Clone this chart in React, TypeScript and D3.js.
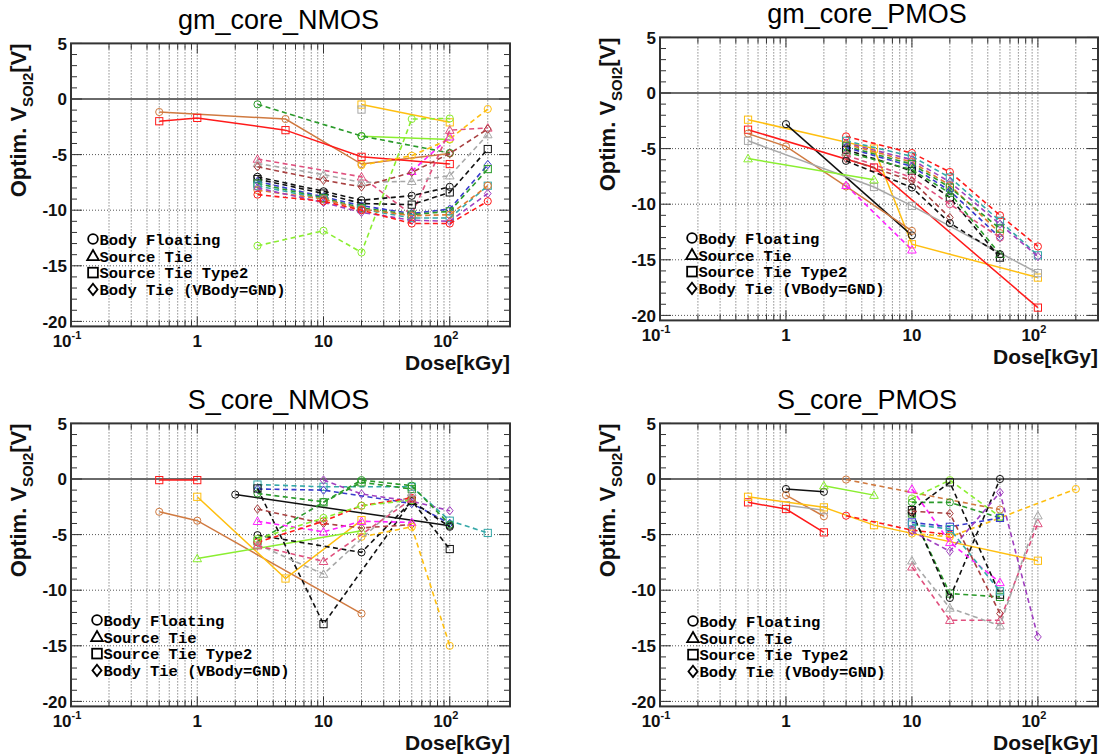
import React from 'react';
import * as d3 from 'd3';

type Pt = [number, number];
type Mk = 'o' | 's' | '^' | 'd';
type Series = { c: string; d: boolean; m: Mk; p: Pt[] };

const palette: Record<string, string> = {
  red: '#ff1a1a',
  sienna: '#d07a40',
  gold: '#ffbf10',
  lime: '#8aee30',
  green: '#2a9a2a',
  black: '#111111',
  gray: '#a8a8a8',
  magenta: '#ff22ff',
  blue: '#3a3acc',
  teal: '#35a8a8',
  purple: '#a040c0',
  pink: '#e0507e',
  brownred: '#a84040',
  orange: '#e07a30',
};

// gm_core_NMOS
const gmNmos: Series[] = [
  { c: 'sienna', d: false, m: 'o', p: [[0.5, -1.17], [5, -1.8], [20, -5.85], [100, -4.9]] },
  { c: 'red', d: false, m: 's', p: [[0.5, -2.0], [1, -1.7], [5, -2.8], [20, -5.2], [100, -5.85]] },
  { c: 'gold', d: false, m: 's', p: [[20, -0.5], [100, -2.1]] },
  { c: 'gray', d: false, m: 's', p: [[20, -0.95]] },
  { c: 'lime', d: false, m: 'o', p: [[20, -3.35], [100, -3.65]] },
  { c: 'green', d: true, m: 'o', p: [[3, -0.48], [20, -3.33], [100, -4.85]] },
  { c: 'lime', d: true, m: 'o', p: [[3, -13.2], [10, -11.85], [20, -13.8], [50, -1.8], [100, -1.75]] },
  { c: 'gold', d: true, m: 'o', p: [[20, -5.95], [50, -5.1], [100, -3.6], [200, -0.9]] },
  { c: 'magenta', d: true, m: '^', p: [[50, -6.5], [100, -3.4]] },
  { c: 'pink', d: true, m: '^', p: [[3, -5.4], [20, -7.0], [50, -10.4], [100, -2.8], [200, -2.6]] },
  { c: 'gray', d: true, m: '^', p: [[3, -5.8], [10, -6.8], [20, -7.5], [50, -7.4], [100, -6.9], [200, -3.2]] },
  { c: 'brownred', d: true, m: 'd', p: [[3, -6.1], [10, -7.3], [20, -7.9], [50, -6.6], [100, -4.9], [200, -2.7]] },
  { c: 'black', d: true, m: 'o', p: [[3, -7.0], [10, -8.3], [20, -9.1], [50, -8.7], [100, -7.9]] },
  { c: 'black', d: true, m: 's', p: [[3, -7.2], [10, -8.5], [20, -9.4], [50, -9.5], [100, -8.4], [200, -4.5]] },
  { c: 'blue', d: true, m: 'd', p: [[3, -7.4], [10, -8.8], [20, -9.6], [50, -10.3], [100, -9.9], [200, -5.9]] },
  { c: 'green', d: true, m: 's', p: [[3, -7.6], [10, -8.9], [20, -9.8], [50, -10.4], [100, -10.1], [200, -6.3]] },
  { c: 'teal', d: true, m: 's', p: [[3, -7.8], [10, -9.0], [20, -9.9], [50, -10.7], [100, -10.7], [200, -7.8]] },
  { c: 'orange', d: true, m: 'o', p: [[3, -8.2], [10, -9.0], [20, -9.9], [50, -10.5], [100, -10.4], [200, -7.8]] },
  { c: 'purple', d: true, m: 'd', p: [[3, -8.0], [10, -9.3], [20, -10.2], [50, -10.9], [100, -11.0], [200, -8.5]] },
  { c: 'red', d: true, m: 'o', p: [[3, -8.6], [10, -9.2], [20, -10.0], [50, -11.2], [100, -11.2], [200, -9.2]] },
];

// gm_core_PMOS
const gmPmos: Series[] = [
  { c: 'gold', d: false, m: 's', p: [[0.5, -2.4], [5, -5.0], [10, -13.6], [100, -16.6]] },
  { c: 'black', d: false, m: 'o', p: [[1, -2.8], [10, -12.8]] },
  { c: 'red', d: false, m: 's', p: [[0.5, -3.3], [5, -6.7], [100, -19.3]] },
  { c: 'sienna', d: false, m: 'o', p: [[0.5, -3.65], [1, -4.8], [3, -8.4], [10, -12.4]] },
  { c: 'gray', d: false, m: 's', p: [[0.5, -4.3], [5, -8.45], [10, -10.15], [100, -16.2]] },
  { c: 'lime', d: false, m: '^', p: [[0.5, -5.9], [5, -7.8]] },
  { c: 'magenta', d: true, m: '^', p: [[3, -8.3], [10, -14.1]] },
  { c: 'red', d: true, m: 'o', p: [[3, -3.9], [10, -5.4], [20, -7.1], [50, -11.0], [100, -13.8]] },
  { c: 'teal', d: true, m: 's', p: [[3, -4.3], [10, -5.7], [20, -7.6], [50, -11.5], [100, -14.6]] },
  { c: 'purple', d: true, m: 'd', p: [[3, -4.5], [10, -6.0], [20, -8.0], [50, -11.8], [100, -14.7]] },
  { c: 'orange', d: true, m: 'o', p: [[3, -4.6], [10, -6.2], [20, -8.3], [50, -12.6]] },
  { c: 'green', d: true, m: 's', p: [[3, -4.8], [10, -6.4], [20, -8.5], [50, -12.2]] },
  { c: 'blue', d: true, m: 'd', p: [[3, -4.9], [10, -6.6], [20, -8.8], [50, -13.0]] },
  { c: 'black', d: true, m: 's', p: [[3, -5.1], [10, -7.0], [20, -9.4], [50, -14.8]] },
  { c: 'green', d: true, m: '^', p: [[3, -5.3], [10, -6.9], [20, -9.0], [50, -14.5]] },
  { c: 'pink', d: true, m: 'o', p: [[3, -5.6], [10, -7.6], [20, -10.0], [50, -13.0]] },
  { c: 'brownred', d: true, m: 'd', p: [[3, -5.9], [10, -7.9], [20, -11.2]] },
  { c: 'black', d: true, m: 'o', p: [[3, -6.1], [10, -8.5], [20, -11.7], [50, -14.5]] },
];

// S_core_NMOS
const sNmos: Series[] = [
  { c: 'red', d: false, m: 's', p: [[0.5, -0.1], [1, -0.1]] },
  { c: 'sienna', d: false, m: 'o', p: [[0.5, -2.95], [1, -3.75], [20, -12.1]] },
  { c: 'gold', d: false, m: 's', p: [[1, -1.6], [5, -8.95], [20, -3.7]] },
  { c: 'lime', d: false, m: '^', p: [[1, -7.15], [20, -4.65]] },
  { c: 'black', d: false, m: 'o', p: [[2, -1.4], [100, -4.2]] },
  { c: 'teal', d: true, m: 's', p: [[3, -0.5], [10, -0.7], [50, -0.7], [100, -3.75], [200, -4.85]] },
  { c: 'purple', d: true, m: 'd', p: [[10, -0.1], [20, -1.35], [50, -2.0], [100, -2.85]] },
  { c: 'blue', d: true, m: 'd', p: [[3, -0.9], [10, -1.0], [50, -2.2], [100, -4.0]] },
  { c: 'green', d: true, m: 'o', p: [[3, -1.3], [10, -2.05], [20, -0.1], [50, -0.6], [100, -4.1]] },
  { c: 'green', d: true, m: 's', p: [[3, -5.6], [10, -2.1], [20, -0.3], [50, -0.9]] },
  { c: 'black', d: true, m: 's', p: [[3, -0.85], [10, -13.05], [50, -1.95], [100, -6.3]] },
  { c: 'black', d: true, m: 'o', p: [[3, -5.05], [20, -6.6], [50, -2.0], [100, -4.3]] },
  { c: 'brownred', d: true, m: 'd', p: [[3, -2.7], [10, -4.0], [20, -4.4], [50, -4.1]] },
  { c: 'magenta', d: true, m: '^', p: [[3, -3.8], [10, -4.75], [20, -3.8], [50, -3.9]] },
  { c: 'red', d: true, m: 'o', p: [[3, -5.7], [10, -3.8], [20, -2.4], [50, -1.7]] },
  { c: 'lime', d: true, m: 'o', p: [[3, -5.4], [10, -3.5], [20, -2.4], [50, -1.9]] },
  { c: 'gold', d: true, m: 'o', p: [[20, -5.2], [50, -4.3], [100, -15.0]] },
  { c: 'gray', d: true, m: '^', p: [[3, -5.9], [10, -8.55], [50, -1.2]] },
  { c: 'pink', d: true, m: '^', p: [[3, -6.0], [10, -7.4], [50, -1.8]] },
];

// S_core_PMOS
const sPmos: Series[] = [
  { c: 'black', d: false, m: 'o', p: [[1, -0.9], [2, -1.15]] },
  { c: 'sienna', d: false, m: 'o', p: [[1, -1.45], [2, -3.35]] },
  { c: 'gray', d: false, m: 's', p: [[1, -2.35], [2, -2.8]] },
  { c: 'red', d: false, m: 's', p: [[0.5, -2.1], [1, -2.7], [2, -4.8]] },
  { c: 'gold', d: false, m: 's', p: [[0.5, -1.6], [2, -2.55], [5, -4.15], [100, -7.35]] },
  { c: 'lime', d: false, m: '^', p: [[2, -0.6], [5, -1.45]] },
  { c: 'sienna', d: true, m: 'o', p: [[3, -0.05], [50, -2.75]] },
  { c: 'red', d: true, m: 'o', p: [[3, -3.3], [10, -4.6], [20, -5.0]] },
  { c: 'gold', d: true, m: 'o', p: [[10, -4.9], [20, -5.2], [200, -0.9]] },
  { c: 'lime', d: true, m: 'o', p: [[10, -1.75], [20, -0.1], [50, -3.4]] },
  { c: 'green', d: true, m: 'o', p: [[10, -2.1], [20, -2.1], [50, -3.5]] },
  { c: 'green', d: true, m: 's', p: [[10, -3.1], [20, -10.3], [50, -10.6]] },
  { c: 'black', d: true, m: 'o', p: [[10, -3.0], [20, -10.7], [50, 0]] },
  { c: 'black', d: true, m: 's', p: [[10, -2.8], [20, -0.3], [50, -10.4]] },
  { c: 'magenta', d: true, m: '^', p: [[10, -0.9], [20, -5.7], [50, -9.3]] },
  { c: 'blue', d: true, m: 's', p: [[10, -3.9], [20, -4.3], [50, -3.5]] },
  { c: 'teal', d: true, m: 's', p: [[10, -4.1], [20, -4.5], [50, -10.1]] },
  { c: 'pink', d: true, m: '^', p: [[10, -7.9], [20, -12.7], [50, -12.7], [100, -4.0]] },
  { c: 'gray', d: true, m: '^', p: [[10, -7.35], [20, -11.6], [50, -13.2], [100, -3.3]] },
  { c: 'purple', d: true, m: 'd', p: [[10, -4.7], [20, -6.5], [50, -1.2], [100, -14.2]] },
  { c: 'brownred', d: true, m: 'd', p: [[10, -2.9], [20, -3.1], [50, -12.1]] },
];

const yTickValues = [5, 0, -5, -10, -15, -20];
const xMajor = [0.1, 1, 10, 100];
const xTickLabels: { v: number; base: string; exp?: string }[] = [
  { v: 0.1, base: '10', exp: '-1' },
  { v: 1, base: '1' },
  { v: 10, base: '10' },
  { v: 100, base: '10', exp: '2' },
];
const legendLabels = ['Body Floating', 'Source Tie', 'Source Tie Type2', 'Body Tie (VBody=GND)'];
const legendMarkers: Mk[] = ['o', '^', 's', 'd'];

const X_DOMAIN: [number, number] = [0.1, 300];
const Y_DOMAIN: [number, number] = [-20.45, 5];
const PX_PER_V = 11.12;

type PanelCfg = {
  title: string;
  series: Series[];
  left: number;
  right: number;
  zeroY: number;
  legX: number;
  legY: number;
};

const panels: PanelCfg[] = [
  { title: 'gm_core_NMOS', series: gmNmos, left: 71, right: 510, zeroY: 99, legX: 93, legY: 239 },
  { title: 'gm_core_PMOS', series: gmPmos, left: 660, right: 1098, zeroY: 93, legX: 692, legY: 238 },
  { title: 'S_core_NMOS', series: sNmos, left: 71, right: 510, zeroY: 479, legX: 97, legY: 620 },
  { title: 'S_core_PMOS', series: sPmos, left: 660, right: 1098, zeroY: 479, legX: 693, legY: 621 },
];

function marker(m: Mk, x: number, y: number, color: string, key: string, sw = 1, k = 1) {
  const common = { fill: 'none', stroke: color, strokeWidth: sw };
  if (m === 'o') return <circle key={key} cx={x} cy={y} r={3.6 * k} {...common} />;
  if (m === 's') {
    const h = 3.6 * k;
    return <rect key={key} x={x - h} y={y - h} width={2 * h} height={2 * h} {...common} />;
  }
  if (m === '^') {
    const s = 4.3 * k;
    return <path key={key} d={`M${x},${y - s}L${x + s},${y + s * 0.75}L${x - s},${y + s * 0.75}Z`} {...common} />;
  }
  const s = 4.2 * k;
  return <path key={key} d={`M${x},${y - s}L${x + s * 0.8},${y}L${x},${y + s}L${x - s * 0.8},${y}Z`} {...common} />;
}

const boldFont = '"Liberation Sans", Arial, Helvetica, sans-serif';

function Panel({ cfg }: { cfg: PanelCfg }) {
  const top = cfg.zeroY - 5 * PX_PER_V;
  const bottom = cfg.zeroY + 20.45 * PX_PER_V;
  const x = d3.scaleLog().domain(X_DOMAIN).range([cfg.left, cfg.right]);
  const y = d3.scaleLinear().domain(Y_DOMAIN).range([bottom, top]);
  const line = d3
    .line<Pt>()
    .x((d) => x(d[0]))
    .y((d) => y(d[1]));

  const xMinor: number[] = [];
  for (const dec of xMajor) {
    for (let k = 2; k <= 9; k++) {
      const v = dec * k;
      if (v <= X_DOMAIN[1]) xMinor.push(v);
    }
  }
  const yMinor = d3.range(-20, 5, 1).filter((v) => v % 5 !== 0);
  const cx = (cfg.left + cfg.right) / 2 - 12;

  return (
    <g>
      <text x={cx} y={top - 14} textAnchor="middle" fontFamily='"Liberation Sans", Arial, sans-serif' fontSize={27} fill="#000">
        {cfg.title}
      </text>
      {[...xMajor.slice(1), ...xMinor].map((v, i) => (
        <line key={'gx' + i} x1={x(v)} x2={x(v)} y1={top} y2={bottom} stroke="#555" strokeWidth={1} strokeDasharray="1,2" />
      ))}
      {[-20, -15, -10, -5].map((v) => (
        <line key={'gy' + v} x1={cfg.left} x2={cfg.right} y1={y(v)} y2={y(v)} stroke="#555" strokeWidth={1} strokeDasharray="1,2" />
      ))}
      <line x1={cfg.left} x2={cfg.right} y1={y(0)} y2={y(0)} stroke="#6a6a6a" strokeWidth={2} />
      {yTickValues.map((v) => (
        <g key={'yt' + v}>
          <line x1={cfg.left} x2={cfg.left + 11} y1={y(v)} y2={y(v)} stroke="#333" strokeWidth={1} />
          <line x1={cfg.right} x2={cfg.right - 11} y1={y(v)} y2={y(v)} stroke="#333" strokeWidth={1} />
        </g>
      ))}
      {yMinor.map((v) => (
        <g key={'ym' + v}>
          <line x1={cfg.left} x2={cfg.left + 6} y1={y(v)} y2={y(v)} stroke="#333" strokeWidth={1} />
          <line x1={cfg.right} x2={cfg.right - 6} y1={y(v)} y2={y(v)} stroke="#333" strokeWidth={1} />
        </g>
      ))}
      {xMajor.map((v) => (
        <g key={'xt' + v}>
          <line x1={x(v)} x2={x(v)} y1={bottom} y2={bottom - 10} stroke="#333" strokeWidth={1} />
          <line x1={x(v)} x2={x(v)} y1={top} y2={top + 10} stroke="#333" strokeWidth={1} />
        </g>
      ))}
      {xMinor.map((v, i) => (
        <g key={'xm' + i}>
          <line x1={x(v)} x2={x(v)} y1={bottom} y2={bottom - 6} stroke="#333" strokeWidth={1} />
          <line x1={x(v)} x2={x(v)} y1={top} y2={top + 6} stroke="#333" strokeWidth={1} />
        </g>
      ))}
      {cfg.series.map((s, i) => (
        <g key={'s' + i}>
          {s.p.length > 1 && (
            <path
              d={line(s.p) || ''}
              fill="none"
              stroke={palette[s.c]}
              strokeWidth={s.d ? 1.6 : 1.5}
              strokeDasharray={s.d ? '5,3.5' : undefined}
            />
          )}
          {s.p.map((pt, j) => marker(s.m, x(pt[0]), y(pt[1]), palette[s.c], 'm' + i + '_' + j))}
        </g>
      ))}
      <rect x={cfg.left} y={top} width={cfg.right - cfg.left} height={bottom - top} fill="none" stroke="#333" strokeWidth={2} />
      {yTickValues.map((v) => (
        <text key={'yl' + v} x={cfg.left - 4} y={y(v)} dy="0.36em" textAnchor="end" fontFamily={boldFont} fontWeight="bold" fontSize={17} fill="#111">
          {v}
        </text>
      ))}
      {xTickLabels.map((t) => (
        <text key={'xl' + t.v} x={x(t.v) + (t.exp ? -4 : 0)} y={bottom + 21} textAnchor="middle" fontFamily={boldFont} fontWeight="bold" fontSize={17} fill="#111">
          {t.base}
          {t.exp && (
            <tspan dy={-8} fontSize={11}>
              {t.exp}
            </tspan>
          )}
        </text>
      ))}
      <text x={cfg.right} y={bottom + 44} textAnchor="end" fontFamily={boldFont} fontWeight="bold" fontSize={21} fill="#111">
        Dose[kGy]
      </text>
      <text
        transform={`translate(${cfg.left - 45},${top}) rotate(-90)`}
        textAnchor="end"
        fontFamily={boldFont}
        fontWeight="bold"
        fontSize={22}
        fill="#111"
      >
        Optim. V
        <tspan fontSize={15} dy={7}>
          SOI2
        </tspan>
        <tspan dy={-7}>[V]</tspan>
      </text>
      {legendLabels.map((lab, i) => {
        const ly = cfg.legY + i * 16.8;
        return (
          <g key={'lg' + i}>
            {marker(legendMarkers[i], cfg.legX, ly, '#000', 'lgm' + i, 1.8, 1.35)}
            <text x={cfg.legX + 6.5} y={ly} dy="0.37em" fontFamily='"Liberation Mono", "DejaVu Sans Mono", monospace' fontWeight="bold" fontSize={15.5} fill="#000">
              {lab}
            </text>
          </g>
        );
      })}
    </g>
  );
}

export default function App() {
  return (
    <svg width={1104} height={754} style={{ display: 'block', position: 'absolute', left: 0, top: 0, background: '#fff' }}>
      <rect x={0} y={0} width={1104} height={754} fill="#fff" />
      {panels.map((p) => (
        <Panel key={p.title} cfg={p} />
      ))}
    </svg>
  );
}
